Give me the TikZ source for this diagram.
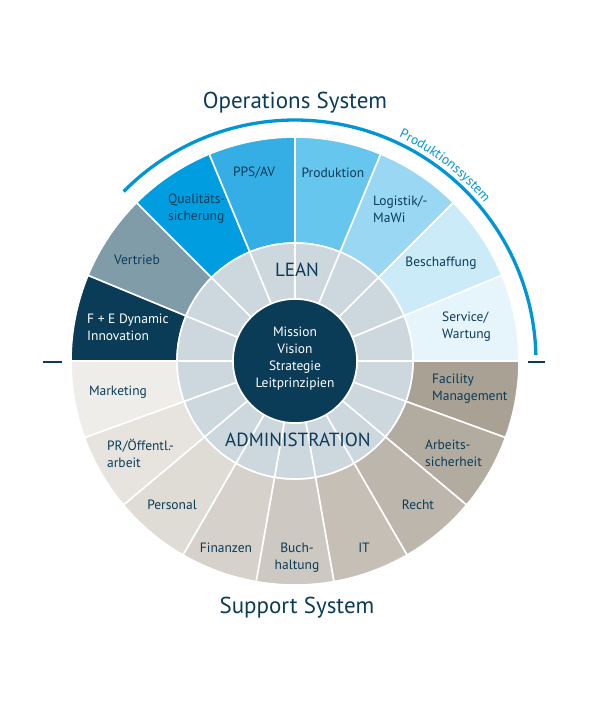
\documentclass[tikz,border=0pt]{standalone}
\usepackage{fontspec}
\setmainfont{PT Sans}
\usepackage{xcolor}
\usetikzlibrary{decorations.text}
\definecolor{dblue}{HTML}{0B3C57}
\definecolor{arcblue}{HTML}{0096D6}
\definecolor{ring}{HTML}{CDD7DE}
% operations half, left to right
\definecolor{up1}{HTML}{0B3C57}
\definecolor{up2}{HTML}{7F9CA8}
\definecolor{up3}{HTML}{009EE0}
\definecolor{up4}{HTML}{34AEE5}
\definecolor{up5}{HTML}{66C6EE}
\definecolor{up6}{HTML}{99D7F3}
\definecolor{up7}{HTML}{CCEBF9}
\definecolor{up8}{HTML}{E6F5FC}
% support half, right to left
\definecolor{dn1}{HTML}{A9A194}
\definecolor{dn2}{HTML}{B2ABA0}
\definecolor{dn3}{HTML}{BCB6AC}
\definecolor{dn4}{HTML}{C5BFB6}
\definecolor{dn5}{HTML}{CDC8C1}
\definecolor{dn6}{HTML}{D6D1CA}
\definecolor{dn7}{HTML}{DFDBD5}
\definecolor{dn8}{HTML}{E7E4DF}
\definecolor{dn9}{HTML}{EFEDEA}
\newcommand\arcfont{\fontsize{13.5}{13.5}\selectfont\color{arcblue}}

\begin{document}
\begin{tikzpicture}[x=1pt,y=1pt,
  seg/.style={draw=white,line width=1.6pt},
  lbl/.style={inner sep=0pt,font=\fontsize{13.5}{17}\selectfont},
  ringlbl/.style={inner sep=0pt,text=dblue,font=\fontsize{19}{19}\selectfont},
  title/.style={inner sep=0pt,text=dblue,font=\fontsize{23}{23}\selectfont},
  tick/.style={dblue,line width=1.8pt}]

\useasboundingbox (-295,-359) rectangle (305,361);

\def\rOut{224pt}
\def\rRing{118pt}
\def\rCore{62pt}
\def\nUp{8}
\def\nDown{9}
\pgfmathsetmacro\upAngle{180/\nUp}
\pgfmathsetmacro\downAngle{180/\nDown}

% operations segments
\foreach \ni in {1,...,\nUp}
{
\pgfmathsetmacro\aStart{180-(\ni-1)*\upAngle}
\pgfmathsetmacro\aEnd{180-\ni*\upAngle}
\filldraw[seg,fill=up\ni] (\aStart:\rRing) -- (\aStart:\rOut) arc (\aStart:\aEnd:\rOut) -- (\aEnd:\rRing) arc (\aEnd:\aStart:\rRing) -- cycle;
\filldraw[seg,fill=ring] (\aStart:\rCore) -- (\aStart:\rRing) arc (\aStart:\aEnd:\rRing) -- (\aEnd:\rCore) arc (\aEnd:\aStart:\rCore) -- cycle;
}

% support segments
\foreach \ni in {1,...,\nDown}
{
\pgfmathsetmacro\aStart{-(\ni-1)*\downAngle}
\pgfmathsetmacro\aEnd{-\ni*\downAngle}
\filldraw[seg,fill=dn\ni] (\aStart:\rRing) -- (\aStart:\rOut) arc (\aStart:\aEnd:\rOut) -- (\aEnd:\rRing) arc (\aEnd:\aStart:\rRing) -- cycle;
\filldraw[seg,fill=ring] (\aStart:\rCore) -- (\aStart:\rRing) arc (\aStart:\aEnd:\rRing) -- (\aEnd:\rCore) arc (\aEnd:\aStart:\rCore) -- cycle;
}

% core
\filldraw[seg,fill=dblue] (0,0) circle [radius=\rCore];
\node[lbl,align=center,text=white] (core) at (0,2) {Mission\\Vision\\Strategie\\Leitprinzipien};

\node[ringlbl] (lean) at (2,91) {LEAN};
\node[ringlbl] (admin) at (3,-79) {ADMINISTRATION};

% segment labels
\foreach \nm/\px/\py/\anc/\al/\tc/\txt in {
 prod/38/188/center/center/dblue/Produktion,
 logi/78/152/west/left/dblue/{Logistik/-\\MaWi},
 besch/146/98/center/center/dblue/Beschaffung,
 serv/147/34/west/left/dblue/{Service/\\Wartung},
 pps/-41/188/center/center/dblue/{PPS/AV},
 quali/-127/152/west/left/dblue/{Qualitäts-\\sicherung},
 vertr/-158/101/center/center/dblue/Vertrieb,
 fue/-208/34/west/left/white/{F + E Dynamic\\Innovation},
 mark/-177/-31/center/center/dblue/Marketing,
 pr/-188/-92/west/left/dblue/{PR/Öffentl.-\\arbeit},
 pers/-123/-144/center/center/dblue/Personal,
 fin/-69/-187/center/center/dblue/Finanzen,
 buch/2/-197/center/center/dblue/{Buch-\\haltung},
 it/69/-187/center/center/dblue/IT,
 recht/123/-144/center/center/dblue/Recht,
 arb/130/-92/west/left/dblue/{Arbeits-\\sicherheit},
 fac/137/-28/west/left/dblue/{Facility\\Management}}
\node[lbl,anchor=\anc,align=\al,text=\tc] (\nm) at (\px,\py) {\txt};

% produktionssystem arc
\draw[arcblue,line width=3.3pt] (135.3:241pt) arc (135.3:1.4:241pt);
\path[font=\arcfont,decorate,decoration={text along path,text={|\arcfont|Produktionssystem},text align=center}] (80:247pt) arc (80:25:247pt);

% ticks
\coordinate (tl1) at (-252,-1);
\coordinate (tl2) at (-233,-1);
\coordinate (tr1) at (233,-1);
\coordinate (tr2) at (250,-1);
\draw[tick] (tl1) -- (tl2);
\draw[tick] (tr1) -- (tr2);

\node[title] (ops) at (0,258) {Operations System};
\node[title] (supp) at (2,-247) {Support System};
\end{tikzpicture}
\end{document}
